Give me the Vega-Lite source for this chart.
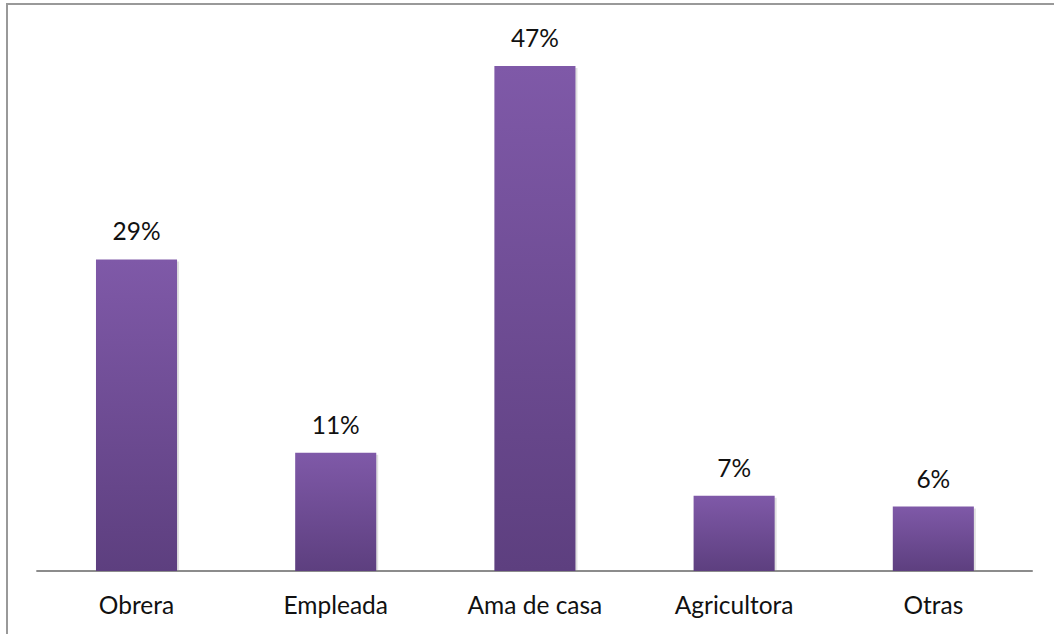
{
  "$schema": "https://vega.github.io/schema/vega-lite/v6.json",
  "autosize": "none",
  "width": 1049,
  "height": 631,
  "padding": {"left": 7, "top": 4, "right": 0, "bottom": 0},
  "background": "white",
  "config": {
    "view": {"stroke": "#999999", "strokeWidth": 2},
    "font": "Lato"
  },
  "data": {
    "values": [
      {"categoria": "Obrera", "pct": 0.29},
      {"categoria": "Empleada", "pct": 0.11},
      {"categoria": "Ama de casa", "pct": 0.47},
      {"categoria": "Agricultora", "pct": 0.07},
      {"categoria": "Otras", "pct": 0.06}
    ]
  },
  "encoding": {
    "x": {
      "field": "categoria",
      "type": "nominal",
      "sort": null,
      "scale": {"paddingInner": 0.593, "paddingOuter": 0.4295, "align": 0.52},
      "axis": {
        "title": null,
        "orient": "bottom",
        "offset": -64,
        "domain": false,
        "ticks": false,
        "tickSize": 0,
        "labelAngle": 0,
        "labelFont": "Lato",
        "labelFontSize": 24.5,
        "labelColor": "#111111",
        "labelBaseline": "alphabetic",
        "labelPadding": 42
      }
    }
  },
  "layer": [
    {
      "mark": {"type": "bar", "color": "#000000", "opacity": 0.12, "xOffset": 2, "yOffset": 2},
      "encoding": {
        "y": {
          "field": "pct",
          "type": "quantitative",
          "scale": {"domain": [-0.0596, 0.5277], "nice": false, "zero": false},
          "axis": null
        },
        "y2": {"datum": 0}
      }
    },
    {
      "mark": {
        "type": "rule",
        "color": "#8c8c8c",
        "strokeWidth": 2
      },
      "encoding": {
        "x": {"datum": "Obrera", "bandPosition": -0.73},
        "x2": {"datum": "Otras", "bandPosition": 1.72},
        "y": {"datum": 0}
      }
    },
    {
      "mark": {
        "type": "bar",
        "color": {
          "gradient": "linear",
          "x1": 0, "y1": 0, "x2": 0, "y2": 1,
          "stops": [
            {"offset": 0, "color": "#7f59a8"},
            {"offset": 1, "color": "#5d3f7f"}
          ]
        }
      },
      "encoding": {
        "y": {"field": "pct", "type": "quantitative"},
        "y2": {"datum": 0}
      }
    },
    {
      "mark": {
        "type": "text",
        "baseline": "alphabetic",
        "dy": -19,
        "font": "Lato",
        "fontSize": 24.5,
        "color": "#111111"
      },
      "encoding": {
        "y": {"field": "pct", "type": "quantitative"},
        "text": {"field": "pct", "type": "quantitative", "format": ".0%"},
        "detail": {"field": "pct"}
      }
    }
  ]
}
